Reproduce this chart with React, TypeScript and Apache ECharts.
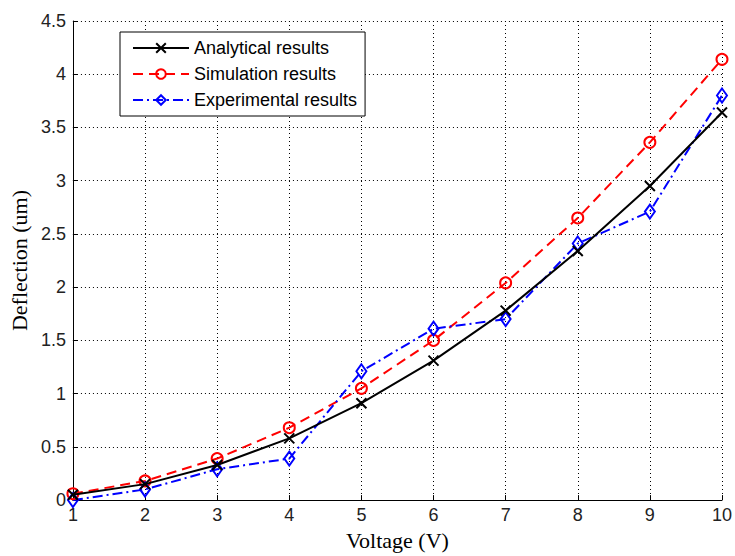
import React, { useEffect, useRef } from "react";
import * as echarts from "echarts";

const voltages = [1, 2, 3, 4, 5, 6, 7, 8, 9, 10];
const analytical = [0.05, 0.15, 0.33, 0.58, 0.91, 1.31, 1.78, 2.34, 2.95, 3.64];
const simulation = [0.06, 0.18, 0.39, 0.68, 1.05, 1.5, 2.04, 2.65, 3.36, 4.14];
const experimental = [0.0, 0.1, 0.29, 0.39, 1.21, 1.61, 1.7, 2.41, 2.71, 3.8];

const sans = "Liberation Sans, Arial, sans-serif";
const serif = "Liberation Serif, Times New Roman, serif";

export default function App() {
  const ref = useRef<HTMLDivElement>(null);
  useEffect(() => {
    if (!ref.current) return;
    const chart = echarts.init(ref.current, undefined, { renderer: "svg" });
    const pair = (arr: number[]) => voltages.map((v, i) => [v, arr[i]]);
    chart.setOption({
      animation: false,
      backgroundColor: "#ffffff",
      grid: { left: 72, right: 11, top: 21, bottom: 55 },
      legend: {
        orient: "vertical",
        left: 120,
        top: 32,
        backgroundColor: "#ffffff",
        borderColor: "#000000",
        borderWidth: 1,
        borderRadius: 0,
        padding: [7, 8, 7, 12],
        itemGap: 8,
        itemWidth: 56,
        itemHeight: 12,
        textStyle: { fontFamily: sans, fontSize: 18, color: "#000", lineHeight: 18, padding: [0, 0, 0, 0] },
        data: ["Analytical results", "Simulation results", "Experimental results"],
      },
      xAxis: {
        type: "value",
        min: 1,
        max: 10,
        interval: 1,
        name: "Voltage (V)",
        nameLocation: "middle",
        nameGap: 28,
        nameTextStyle: { fontFamily: serif, fontSize: 22, color: "#000" },
        axisLine: { show: true, onZero: false, lineStyle: { color: "#000", width: 1 } },
        axisTick: { show: true, inside: true, length: 5, lineStyle: { color: "#000" } },
        axisLabel: { fontFamily: sans, fontSize: 18, color: "#222", margin: 6 },
        splitLine: { show: true, lineStyle: { color: "#000", type: [1, 3], width: 1 } },
      },
      yAxis: {
        type: "value",
        min: 0,
        max: 4.5,
        interval: 0.5,
        name: "Deflection (um)",
        nameLocation: "middle",
        nameGap: 40,
        nameTextStyle: { fontFamily: serif, fontSize: 22, color: "#000" },
        axisLine: { show: true, lineStyle: { color: "#000", width: 1 } },
        axisTick: { show: true, inside: true, length: 5, lineStyle: { color: "#000" } },
        axisLabel: { fontFamily: sans, fontSize: 18, color: "#222", margin: 7 },
        splitLine: { show: true, lineStyle: { color: "#000", type: [1, 3], width: 1 } },
      },
      series: [
        {
          name: "Analytical results",
          type: "line",
          data: pair(analytical),
          symbol: "path://M0,0L10,10M10,0L0,10",
          symbolSize: 10,
          showAllSymbol: true,
          lineStyle: { color: "#000", width: 2, type: "solid" },
          itemStyle: { color: "#000", borderColor: "#000", borderWidth: 2 },
          z: 3,
        },
        {
          name: "Simulation results",
          type: "line",
          data: pair(simulation),
          symbol: "circle",
          symbolSize: 11,
          showAllSymbol: true,
          lineStyle: { color: "#ff0000", width: 2, type: [10, 6] },
          itemStyle: { color: "rgba(255,255,255,0)", borderColor: "#ff0000", borderWidth: 2 },
          z: 2,
        },
        {
          name: "Experimental results",
          type: "line",
          data: pair(experimental),
          symbol: "diamond",
          symbolSize: [10, 14],
          showAllSymbol: true,
          lineStyle: { color: "#0000ff", width: 2, type: [10, 4, 2, 4] },
          itemStyle: { color: "rgba(255,255,255,0)", borderColor: "#0000ff", borderWidth: 2 },
          z: 2,
        },
      ],
    });
    return () => chart.dispose();
  }, []);
  return <div ref={ref} style={{ width: 735, height: 556, position: "absolute", left: 0, top: 0 }} />;
}
